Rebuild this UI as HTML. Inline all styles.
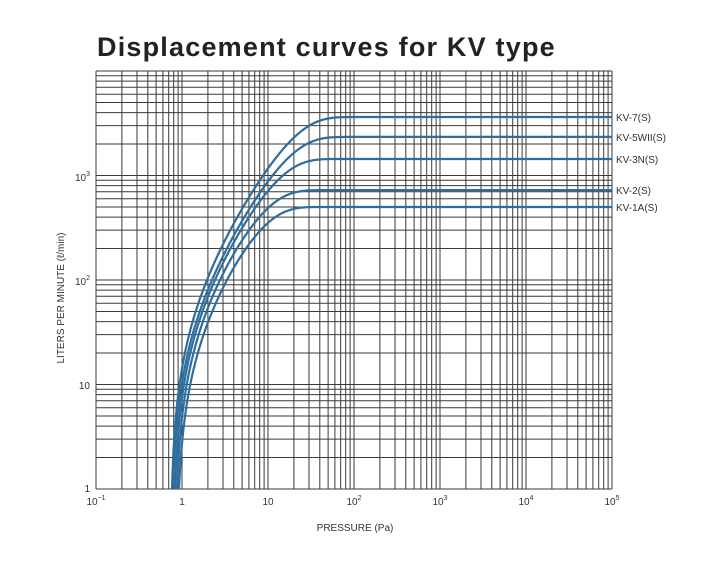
<!DOCTYPE html>
<html><head><meta charset="utf-8"><style>
html,body{margin:0;padding:0;background:#fff;width:726px;height:580px;overflow:hidden}
svg{display:block}
text{font-family:"Liberation Sans","Noto Sans CJK JP",sans-serif;fill:#333}
</style></head><body>
<svg id="s" width="726" height="580" viewBox="0 0 726 580" xmlns="http://www.w3.org/2000/svg">
<text x="97" y="56" font-size="27" font-weight="bold" fill="#222" style="fill:#222;letter-spacing:1.2px">Displacement  curves  for KV type</text>
<g id="grid" stroke="#3a3a3a" stroke-width="1" fill="none"></g>
<g id="curves" stroke="#2f6d9c" stroke-width="2.2" fill="none"></g>
<g id="lab" font-size="10"></g>
<text x="355" y="531" font-size="10" text-anchor="middle">PRESSURE  (Pa)</text>
<text transform="translate(64,298) rotate(-90)" font-size="10" text-anchor="middle">LITERS PER MINUTE (ℓ/min)</text>
</svg>
<script>
var NS="http://www.w3.org/2000/svg";
var L=96,R=612,T=71,B=489,DX=86,DY=104.5;
function X(p){return L+(Math.log10(p)+1)*DX}
function Px(x){return Math.pow(10,(x-L)/DX-1)}
function Y(q){return B-Math.log10(q)*DY}
var g=document.getElementById('grid'),d="";
for(var e=-1;e<5;e++)for(var k=1;k<10;k++){var x=X(k*Math.pow(10,e));d+="M"+x.toFixed(1)+" "+T+"V"+B}
d+="M"+R+" "+T+"V"+B;
for(var e=0;e<4;e++)for(var k=1;k<10;k++){var y=Y(k*Math.pow(10,e));d+="M"+L+" "+y.toFixed(1)+"H"+R}
d+="M"+L+" "+T+"H"+R;
var p=document.createElementNS(NS,'path');p.setAttribute('d',d);g.appendChild(p);
var cs=[[3630,172,207,"KV-7(S)"],[2340,173,212,"KV-5WII(S)"],[1440,175,215,"KV-3N(S)"],[725,177,220,"KV-2(S)"],[500,179,227,"KV-1A(S)"]];
var cg=document.getElementById('curves'),lg=document.getElementById('lab');
var m=1.3;
cs.forEach(function(c){
 var Q=c[0],P1=Px(c[1]),P100=Px(c[2]);
 var l1=-Math.log(1-1/Q),l100=-Math.log(1-100/Q);
 var a=Math.pow(l100/l1,1/m);
 var P0=(a*P1-P100)/(a-1);
 var Pc=(P1-P0)/Math.pow(l1,1/m);
 var s="M"+X(P1).toFixed(1)+" "+B;
 for(var lp=Math.log10(P1)+0.002;lp<=5;lp+=0.004){
  var P=Math.pow(10,lp);var q=Q*(1-Math.exp(-Math.pow((P-P0)/Pc,m)));
  if(q<1)continue;
  s+="L"+X(P).toFixed(1)+" "+Y(q).toFixed(1);
 }
 s+="L"+R+" "+Y(Q).toFixed(1);
 var pp=document.createElementNS(NS,'path');pp.setAttribute('d',s);cg.appendChild(pp);
 var t=document.createElementNS(NS,'text');t.setAttribute('x',616);t.setAttribute('y',(Y(Q)+4).toFixed(1));t.setAttribute('font-size','10');t.textContent=c[3];lg.appendChild(t);
});
function tx(x,y,html,anchor){var t=document.createElementNS(NS,'text');t.setAttribute('x',x);t.setAttribute('y',y);if(anchor)t.setAttribute('text-anchor',anchor);t.innerHTML=html;lg.appendChild(t)}
tx(X(0.1),505,'10<tspan dy="-5" font-size="7">−1</tspan>','middle');
tx(X(1),505,'1','middle');tx(X(10),505,'10','middle');
tx(X(100),505,'10<tspan dy="-5" font-size="7">2</tspan>','middle');
tx(X(1000),505,'10<tspan dy="-5" font-size="7">3</tspan>','middle');
tx(X(1e4),505,'10<tspan dy="-5" font-size="7">4</tspan>','middle');
tx(X(1e5),505,'10<tspan dy="-5" font-size="7">5</tspan>','middle');
tx(90,492,'1','end');tx(90,389,'10','end');
tx(90,285,'10<tspan dy="-5" font-size="7">2</tspan>','end');
tx(90,181,'10<tspan dy="-5" font-size="7">3</tspan>','end');
</script>
</body></html>
